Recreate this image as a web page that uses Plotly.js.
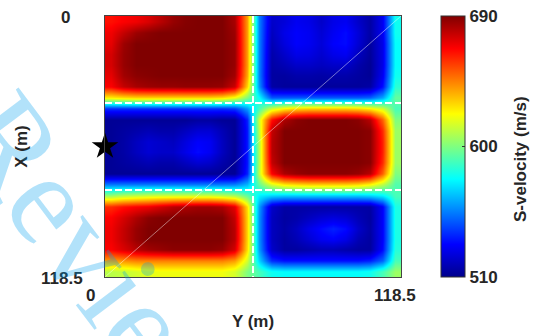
<!DOCTYPE html>
<html>
<head>
<meta charset="utf-8">
<script src="https://cdn.plot.ly/plotly-3.0.1.min.js"></script>
<style>html,body{margin:0;padding:0;background:#fff}#chart{width:537px;height:336px}</style>
</head>
<body>
<div id="chart"></div>
<script>
// ---- data ----
const extent = 118.5;                    // model size (m)
const xTickVals = [0, 118.5];            // Y (m) axis labels
const yTickVals = [0, 118.5];            // X (m) axis labels
const colorTickVals = [510, 600, 690];   // S-velocity colorbar ticks
const zMin = 510, zMax = 690;
const boundaryY = [59.25];               // vertical dashed boundary (Y, m)
const boundaryX = [39.5, 79];            // horizontal dashed boundaries (X, m)
const sourceY = [0];                     // star position (Y, m)
const sourceX = [59.25];                 // star position (X, m)
// S-velocity (m/s), rows from X=0 (top) to X=118.5 (bottom), columns from Y=0 to Y=118.5
const sVelocity = [
 [665,668,670,674,680,686,689,690,690,690,683,640, 555,522,525,530,528,522,528,530,522,515,530,580],
 [670,678,685,688,690,690,690,690,690,690,685,640, 555,520,528,532,530,524,530,534,525,515,530,580],
 [672,685,690,690,690,690,690,690,690,690,686,640, 555,518,526,532,530,525,532,534,524,514,528,578],
 [675,686,690,690,690,690,690,690,690,690,686,640, 555,516,522,528,527,523,528,530,520,513,528,578],
 [675,686,690,690,690,690,690,690,690,690,686,640, 555,515,518,522,522,520,522,522,516,512,528,578],
 [672,684,688,689,690,690,690,690,690,690,684,638, 555,514,514,516,516,515,516,516,514,512,530,580],
 [668,678,683,685,686,686,687,687,687,686,677,630, 558,515,513,513,513,513,513,513,513,515,535,585],
 [625,628,630,630,630,630,630,630,630,628,620,600, 578,548,548,548,548,548,548,548,548,550,562,595],
 [540,540,540,540,540,540,540,540,540,540,542,560, 590,615,625,630,632,632,632,632,630,625,615,590],
 [512,512,512,512,512,512,512,514,514,512,512,538, 615,665,682,688,690,690,690,690,688,680,650,600],
 [512,514,516,518,516,516,520,524,524,518,512,536, 612,678,690,690,690,690,690,690,690,688,660,605],
 [512,515,520,524,522,520,526,532,530,520,512,536, 610,680,690,690,690,690,690,690,690,688,662,605],
 [512,515,520,524,522,522,528,534,530,520,512,536, 610,680,690,690,690,690,690,690,690,688,662,605],
 [512,514,516,518,516,516,520,524,522,516,512,536, 610,678,690,690,690,690,690,690,690,688,660,605],
 [512,512,512,512,512,512,512,512,512,512,512,538, 612,668,682,686,688,688,688,688,686,680,650,600],
 [555,555,555,555,555,555,555,555,555,555,556,565, 595,615,625,628,630,630,630,630,628,622,610,592],
 [605,610,612,614,615,615,615,615,615,612,608,595, 575,570,568,568,568,568,568,568,568,570,575,590],
 [660,665,668,670,675,680,682,684,684,682,672,628, 560,522,515,515,515,515,515,515,515,515,532,582],
 [668,675,682,688,690,690,690,690,690,690,678,630, 558,520,514,516,520,524,526,524,518,514,532,582],
 [670,678,686,690,690,690,690,690,690,690,680,630, 558,520,515,520,528,534,538,534,522,515,532,582],
 [670,678,686,690,690,690,690,690,690,690,680,630, 558,520,514,518,524,530,532,528,518,514,532,582],
 [668,674,680,684,686,688,688,688,688,686,675,628, 560,522,514,514,516,518,518,516,514,514,534,584],
 [640,642,645,645,645,645,645,645,645,645,640,615, 570,540,535,535,535,535,535,535,535,538,550,590],
 [610,612,615,618,620,620,620,620,620,620,615,600, 590,580,578,578,578,578,578,578,578,580,590,605]
];

// ---- styling ----
const textColor = '#262626';
const boldFont = {family: 'Liberation Sans, Arial, sans-serif', size: 17, color: textColor, weight: 'bold'};
const jet = [[0,'rgb(0,0,140)'],[0.125,'rgb(0,0,255)'],[0.375,'rgb(0,255,255)'],
             [0.625,'rgb(255,255,0)'],[0.875,'rgb(255,0,0)'],[1,'rgb(128,0,0)']];

const nCols = sVelocity[0].length, nRows = sVelocity.length;
const dxCell = extent / nCols, dyCell = extent / nRows;

const heat = {
  type: 'heatmap', z: sVelocity,
  x0: dxCell / 2, dx: dxCell, y0: dyCell / 2, dy: dyCell,
  zmin: zMin, zmax: zMax, colorscale: jet, zsmooth: 'best',
  hoverinfo: 'skip',
  colorbar: {
    x: 1.135, xanchor: 'left', xpad: 0, ypad: 0,
    y: 0.5, yanchor: 'middle', len: 1, lenmode: 'fraction',
    thickness: 24, thicknessmode: 'pixels',
    outlinewidth: 1, outlinecolor: '#333',
    tickmode: 'array', tickvals: colorTickVals, ticktext: colorTickVals.map(String),
    ticks: 'inside', ticklen: 3, tickcolor: '#333',
    tickfont: boldFont
  }
};

const star = {
  type: 'scatter', mode: 'markers', x: sourceY, y: sourceX,
  marker: {symbol: 'star', size: 20, color: '#000'},
  cliponaxis: false, hoverinfo: 'skip', showlegend: false
};

const dashStyle = {color: '#fff', width: 2, dash: '7px,3px'};
const shapes = [];
boundaryY.forEach(v => shapes.push({type: 'line', xref: 'x', yref: 'y', x0: v, x1: v, y0: 0, y1: extent, line: dashStyle}));
boundaryX.forEach(v => shapes.push({type: 'line', xref: 'x', yref: 'y', x0: 0, x1: extent, y0: v, y1: v, line: dashStyle}));
// faint scan seams visible in the original figure
shapes.push({type: 'line', xref: 'paper', yref: 'paper', x0: 0, y0: 0, x1: 1, y1: 1, line: {color: 'rgba(255,255,255,0.45)', width: 1}});
shapes.push({type: 'line', xref: 'paper', yref: 'paper', x0: 1.139, y0: 0.077, x1: 1.209, y1: 0.985, line: {color: 'rgba(255,255,255,0.35)', width: 1}});

// tick labels (placed as in the original figure)
const annotations = [];
const xLabelShift = [-15, -6.5];
xTickVals.forEach((v, i) => annotations.push({
  xref: 'paper', yref: 'paper', x: v / extent, y: 0, xshift: xLabelShift[i], yshift: -18,
  text: String(v), showarrow: false, font: boldFont, xanchor: 'center', yanchor: 'middle'
}));
const yLabelShift = [-40, -43];
yTickVals.forEach((v, i) => annotations.push({
  xref: 'paper', yref: 'paper', x: 0, y: 1 - v / extent, xshift: yLabelShift[i], yshift: -1,
  text: String(v), showarrow: false, font: boldFont, xanchor: 'center', yanchor: 'middle'
}));
// colorbar title
annotations.push({
  xref: 'paper', yref: 'paper', x: 1.402, y: 0.452, xanchor: 'center', yanchor: 'middle',
  text: 'S-velocity (m/s)', textangle: -90, showarrow: false, font: boldFont
});
// review watermark
annotations.push({
  xref: 'paper', yref: 'paper', x: -0.007, y: 0.034, xanchor: 'center', yanchor: 'middle',
  text: 'Review', textangle: 53, showarrow: false,
  font: {family: 'Liberation Serif, Times New Roman, serif', size: 130, color: 'rgba(0,160,240,0.3)'}
});

const layout = {
  width: 537, height: 336,
  margin: {l: 105, r: 136, t: 16, b: 59},
  paper_bgcolor: '#fff', plot_bgcolor: '#fff',
  showlegend: false,
  xaxis: {
    range: [0, extent], showgrid: false, zeroline: false, showticklabels: false, ticks: '',
    showline: true, mirror: true, linecolor: '#444', linewidth: 1,
    title: {text: 'Y (m)', font: boldFont, standoff: 38}
  },
  yaxis: {
    range: [extent, 0], showgrid: false, zeroline: false, showticklabels: false, ticks: '',
    showline: true, mirror: true, linecolor: '#444', linewidth: 1,
    title: {text: 'X (m)', font: boldFont, standoff: 72}
  },
  shapes: shapes,
  annotations: annotations
};

Plotly.newPlot('chart', [heat, star], layout, {displayModeBar: false, staticPlot: true});
</script>
</body>
</html>
